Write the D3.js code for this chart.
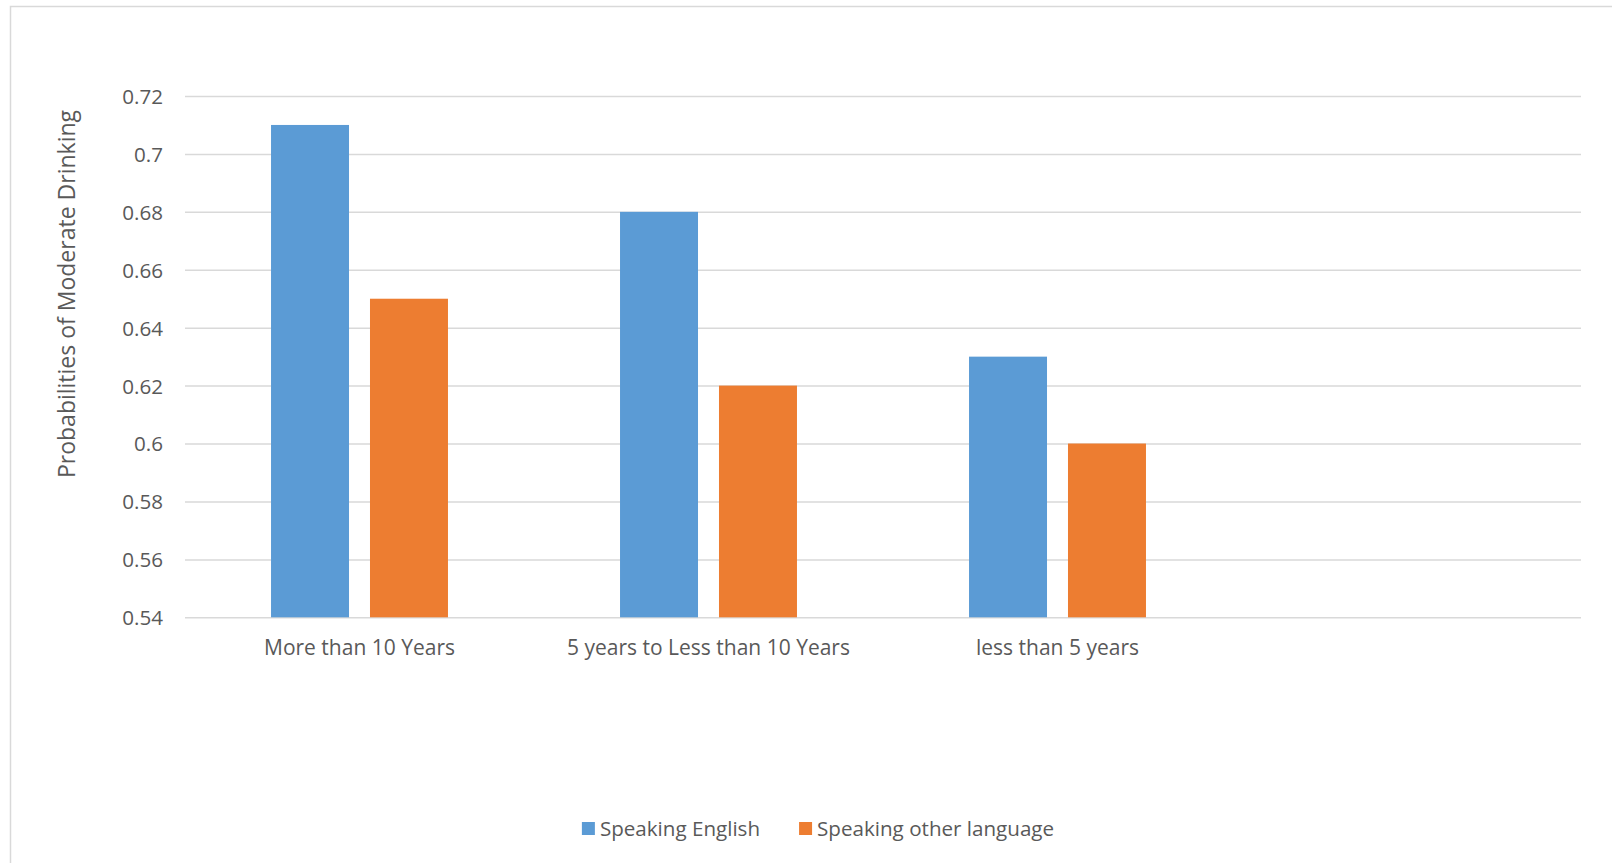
<!DOCTYPE html>
<html>
<head>
<meta charset="utf-8">
<script src="https://cdn.jsdelivr.net/npm/d3@7"></script>
<style>
  body { margin: 0; background: #fff; }
  text { font-family: "Open Sans", sans-serif; fill: #595959; }
</style>
</head>
<body>
<svg id="chart" width="1612" height="863"></svg>
<script>
// data
var categories = ['More than 10 Years', '5 years to Less than 10 Years', 'less than 5 years'];
var seriesNames = ['Speaking English', 'Speaking other language'];
var englishValues = [0.71, 0.68, 0.63];
var otherValues = [0.65, 0.62, 0.60];
var yTicks = [0.54, 0.56, 0.58, 0.6, 0.62, 0.64, 0.66, 0.68, 0.7, 0.72];
var colors = ['#5B9BD5', '#ED7D31'];

var svg = d3.select('#chart');
svg.append('rect').attr('width', 1612).attr('height', 863).attr('fill', '#fff');

// chart area border (cropped at right and bottom)
svg.append('rect')
    .attr('x', 10.5).attr('y', 6.5)
    .attr('width', 1700).attr('height', 900)
    .attr('fill', 'none').attr('stroke', '#D9D9D9').attr('stroke-width', 1.5);

var plotLeft = 185, plotRight = 1581, plotTop = 96, plotBottom = 617.3;

var y = d3.scaleLinear().domain([0.54, 0.72]).range([plotBottom, plotTop]);

// the source sheet has a fourth, empty category slot
var x0 = d3.scaleBand().domain(categories.concat([' ']))
    .range([plotLeft, plotRight]).paddingInner(0.493).paddingOuter(0.2465);
var x1 = d3.scaleBand().domain(seriesNames)
    .range([0, x0.bandwidth()]).paddingInner(0.212);

// gridlines + tick labels
var yAxis = d3.axisLeft(y).tickValues(yTicks).tickSize(-(plotRight - plotLeft))
    .tickFormat(function(d) { return String(+d.toFixed(2)); });
var gy = svg.append('g').attr('transform', 'translate(' + plotLeft + ',0)').call(yAxis);
gy.select('.domain').remove();
gy.selectAll('.tick line').attr('stroke', '#D9D9D9').attr('stroke-width', 1.5);
gy.selectAll('.tick text')
    .attr('x', -22).attr('dy', '0.36em')
    .style('font-size', '20.6px').attr('fill', '#595959');

var rows = categories.map(function(c, i) {
    return { cat: c, values: [englishValues[i], otherValues[i]] };
});

var groups = svg.selectAll('.grp').data(rows).enter().append('g')
    .attr('class', 'grp')
    .attr('transform', function(d) { return 'translate(' + x0(d.cat) + ',0)'; });

groups.selectAll('rect').data(function(d) {
    return d.values.map(function(v, j) { return { name: seriesNames[j], v: v, j: j }; });
}).enter().append('rect')
    .attr('x', function(d) { return x1(d.name); })
    .attr('y', function(d) { return y(d.v); })
    .attr('width', x1.bandwidth())
    .attr('height', function(d) { return y(0.54) - y(d.v); })
    .attr('fill', function(d) { return colors[d.j]; });

// category labels
var xAxis = d3.axisBottom(x0).tickSize(0).tickPadding(0);
var gx = svg.append('g').attr('transform', 'translate(0,' + plotBottom + ')').call(xAxis);
gx.select('.domain').remove();
gx.selectAll('.tick text')
    .attr('y', 38).attr('dy', 0)
    .style('font-size', '21px').attr('fill', '#595959');

// y axis title
svg.append('text')
    .attr('transform', 'translate(75,294) rotate(-90)')
    .attr('text-anchor', 'middle')
    .style('font-size', '23px')
    .text('Probabilities of Moderate Drinking');

// legend, centred
var legend = svg.append('g');
var items = legend.selectAll('g').data(seriesNames).enter().append('g');
items.append('rect').attr('width', 13).attr('height', 13).attr('y', -14)
    .attr('fill', function(d, i) { return colors[i]; });
items.append('text').attr('x', 18).style('font-size', '20.6px').text(function(d) { return d; });
var pos = 0;
items.each(function() {
    var w = 18 + d3.select(this).select('text').node().getComputedTextLength();
    d3.select(this).attr('transform', 'translate(' + pos + ',0)');
    pos += w + 39;
});
var total = pos - 39;
legend.attr('transform', 'translate(' + (818 - total / 2) + ',836)');
</script>
</body>
</html>
